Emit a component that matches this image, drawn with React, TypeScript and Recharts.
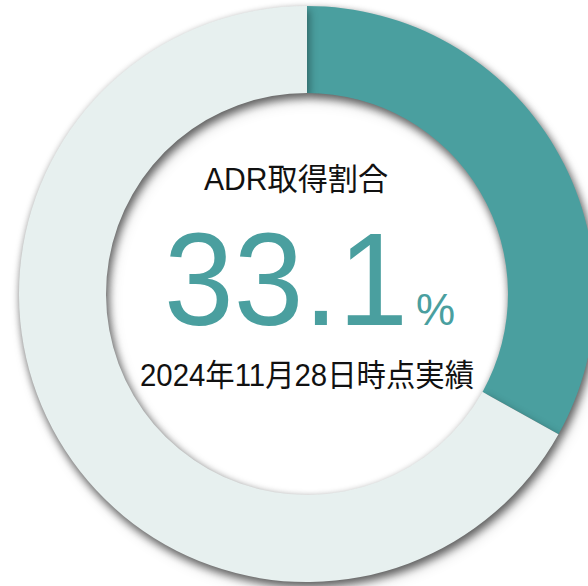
import { PieChart, Pie, Cell } from "recharts";

const SEGMENTS = ["取得", "未取得"];
const SHARES = [33.1, 66.9];
const COLORS = ["#4a9f9f", "#e7f0ef"];

const TITLE = "ADR取得割合";
const VALUE_TEXT = "33.1";
const UNIT_TEXT = "%";
const NOTE = "2024年11月28日時点実績";

const FONT = '"Liberation Sans", Arial, "Noto Sans CJK JP", sans-serif';

const data = SEGMENTS.map((name, i) => ({ name, value: SHARES[i] }));

export default function App() {
  return (
    <div style={{ position: "absolute", left: 0, top: 0, width: 588, height: 586, background: "#fff", overflow: "hidden" }}>
      <style>{`.adr-ring { filter: drop-shadow(2px 4px 4px rgba(0,0,0,0.4)); }`}</style>
      <PieChart width={588} height={586} margin={{ top: 0, right: 0, bottom: 0, left: 0 }}>
        <Pie
          className="adr-ring"
          data={data}
          dataKey="value"
          nameKey="name"
          cx={307}
          cy={294}
          innerRadius={201}
          outerRadius={288}
          startAngle={90}
          endAngle={-270}
          stroke="none"
          isAnimationActive={false}
        >
          {data.map((d, i) => (
            <Cell key={d.name} fill={COLORS[i]} />
          ))}
        </Pie>
        <text
          x={204}
          y={190}
          textAnchor="start"
          fontSize={31}
          textLength={184}
          lengthAdjust="spacingAndGlyphs"
          fill="#111"
          fontFamily={FONT}
        >
          {TITLE}
        </text>
        {/* big value, forced to the reference's width */}
        <text
          x={164}
          y={325}
          textAnchor="start"
          fontSize={132}
          textLength={244}
          lengthAdjust="spacingAndGlyphs"
          fill={COLORS[0]}
          fontFamily={FONT}
        >
          {VALUE_TEXT}
        </text>
        <text x={416} y={325} textAnchor="start" fontSize={44} fill={COLORS[0]} fontFamily={FONT}>
          {UNIT_TEXT}
        </text>
        <text
          x={140}
          y={386}
          textAnchor="start"
          fontSize={31}
          textLength={334}
          lengthAdjust="spacingAndGlyphs"
          fill="#111"
          fontFamily={FONT}
        >
          {NOTE}
        </text>
      </PieChart>
    </div>
  );
}
